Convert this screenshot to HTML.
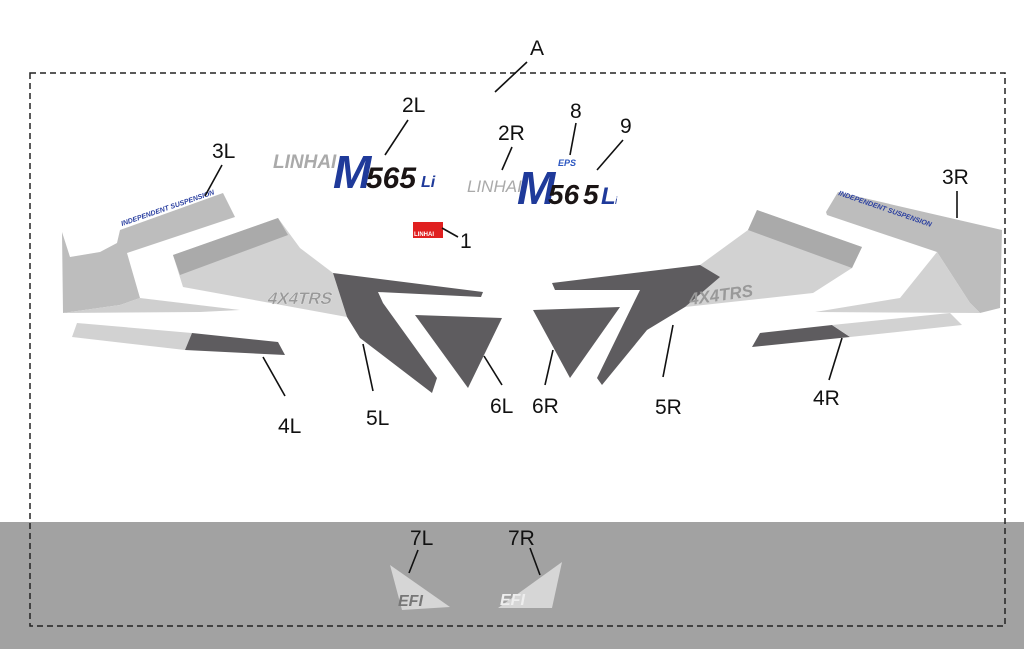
<!DOCTYPE html>
<html><head><meta charset="utf-8"><style>
html,body{margin:0;padding:0;background:#fff}
svg{display:block}
text{font-family:"Liberation Sans",sans-serif}
.lb{font-family:"Liberation Sans Narrow","Liberation Sans",sans-serif;font-size:21px;fill:#111}
.ln{stroke:#111;stroke-width:1.6;fill:none}
</style></head><body>
<svg width="1024" height="649" viewBox="0 0 1024 649" xmlns="http://www.w3.org/2000/svg">
<rect x="0" y="0" width="1024" height="649" fill="#fff"/>
<rect x="0" y="522" width="1024" height="127" fill="#a2a2a2"/>
<rect x="30" y="73" width="975" height="553" fill="none" stroke="#222" stroke-width="1.5" stroke-dasharray="6,4"/>

<!-- 3L -->
<polygon points="62,232 70,257 100,252 117,243 120,230 223,193 235,217 127,253 140,298 120,305 63,313" fill="#bdbdbd"/>
<polygon points="63,313 120,305 140,298 240,310 200,312" fill="#cfcfcf"/>
<text x="0" y="0" transform="translate(122,226) rotate(-19)" font-size="7" font-weight="bold" font-style="italic" fill="#2a3fa0">INDEPENDENT SUSPENSION</text>
<!-- big left -->
<polygon points="173,255 278,218 300,248 333,273 347,317 183,287" fill="#d2d2d2"/>
<polygon points="173,255 278,218 288,235 180,275" fill="#aaaaaa"/>
<polygon points="333,273 483,292 481,297 378,292 383,303 437,378 432,393 360,338 347,317" fill="#5e5c5f"/>
<text x="268" y="304" transform="skewX(-15) translate(80,0)" font-size="17" font-weight="bold" fill="#999" stroke="#eee" stroke-width="0.3">4X4TRS</text>
<polygon points="415,315 502,318 468,388" fill="#5e5c5f"/>
<!-- 4L -->
<polygon points="77,323 192,333 185,350 72,337" fill="#d2d2d2"/>
<polygon points="192,333 278,342 285,355 185,350" fill="#5e5c5f"/>

<!-- 3R -->
<polygon points="826,212 838,192 1002,230 1000,308 980,313 970,303 937,252 827,215" fill="#bdbdbd"/>
<polygon points="937,252 970,303 980,313 815,312 900,298" fill="#d2d2d2"/>
<text x="0" y="0" transform="translate(838,195) rotate(19)" font-size="7" font-weight="bold" font-style="italic" fill="#2a3fa0">INDEPENDENT SUSPENSION</text>
<!-- big right -->
<polygon points="748,230 757,210 862,247 852,268 813,293 685,307 700,265" fill="#d2d2d2"/>
<polygon points="748,230 757,210 862,247 852,268" fill="#aaaaaa"/>
<polygon points="552,283 700,265 720,277 685,307 647,330 602,385 597,378 640,290 555,290" fill="#5e5c5f"/>
<text x="690" y="305" transform="rotate(-8 690 305)" font-size="17" font-weight="bold" font-style="italic" fill="#999">4X4TRS</text>
<polygon points="533,310 620,307 570,378" fill="#5e5c5f"/>
<!-- 4R -->
<polygon points="760,333 832,325 850,337 752,347" fill="#5e5c5f"/>
<polygon points="832,325 950,313 962,325 850,337" fill="#d2d2d2"/>

<!-- logos -->
<text x="273" y="168" font-size="19" font-style="italic" font-weight="bold" fill="#aaa">LINHAI</text>
<text x="333" y="188" font-size="46" font-style="italic" font-weight="bold" fill="#1f3a9a">M</text>
<text x="366" y="188" font-size="30" font-style="italic" font-weight="bold" fill="#1a1414">565</text>
<text x="421" y="187" font-size="16" font-style="italic" font-weight="bold" fill="#1f3a9a">Li</text>
<text x="467" y="192" font-size="17" font-style="italic" fill="#aaa">LINHAI</text>
<text x="517" y="204" font-size="46" font-style="italic" font-weight="bold" fill="#1f3a9a">M</text>
<text x="548" y="204" font-size="28" font-style="italic" font-weight="bold" fill="#1a1414">56</text>
<text x="583" y="204" font-size="28" font-style="italic" font-weight="bold" fill="#1a1414">5</text>
<text x="601" y="204" font-size="24" font-style="italic" font-weight="bold" fill="#1f3a9a">L</text>
<text x="615" y="204" font-size="10" font-style="italic" fill="#1f3a9a">i</text>
<text x="558" y="166" font-size="9" font-style="italic" font-weight="bold" fill="#2a55c0">EPS</text>
<rect x="413" y="222" width="30" height="16" fill="#e02020"/>
<text x="414" y="236" font-size="6" font-weight="bold" fill="#fff">LINHAI</text>

<!-- EFI -->
<polygon points="390,565 450,607 402,610" fill="#d6d6d6"/>
<text x="398" y="606" font-size="16" font-weight="bold" font-style="italic" fill="#777">EFI</text>
<polygon points="562,562 552,608 498,608" fill="#d6d6d6"/>
<text x="500" y="605" font-size="16" font-weight="bold" font-style="italic" fill="#eee">EFI</text>

<!-- leaders -->
<line class="ln" x1="495" y1="92" x2="527" y2="62"/>
<line class="ln" x1="385" y1="155" x2="408" y2="120"/>
<line class="ln" x1="502" y1="170" x2="512" y2="147"/>
<line class="ln" x1="570" y1="155" x2="576" y2="123"/>
<line class="ln" x1="597" y1="170" x2="623" y2="140"/>
<line class="ln" x1="205" y1="196" x2="222" y2="165"/>
<line class="ln" x1="957" y1="218" x2="957" y2="191"/>
<line class="ln" x1="442" y1="228" x2="458" y2="237"/>
<line class="ln" x1="263" y1="357" x2="285" y2="396"/>
<line class="ln" x1="363" y1="344" x2="373" y2="391"/>
<line class="ln" x1="484" y1="356" x2="502" y2="385"/>
<line class="ln" x1="553" y1="350" x2="545" y2="385"/>
<line class="ln" x1="673" y1="325" x2="663" y2="377"/>
<line class="ln" x1="842" y1="338" x2="829" y2="380"/>
<line class="ln" x1="409" y1="573" x2="418" y2="550"/>
<line class="ln" x1="540" y1="575" x2="530" y2="548"/>

<!-- labels -->
<text class="lb" x="530" y="55">A</text>
<text class="lb" x="402" y="112">2L</text>
<text class="lb" x="498" y="140">2R</text>
<text class="lb" x="570" y="118">8</text>
<text class="lb" x="620" y="133">9</text>
<text class="lb" x="212" y="158">3L</text>
<text class="lb" x="942" y="184">3R</text>
<text class="lb" x="460" y="248">1</text>
<text class="lb" x="278" y="433">4L</text>
<text class="lb" x="366" y="425">5L</text>
<text class="lb" x="490" y="413">6L</text>
<text class="lb" x="532" y="413">6R</text>
<text class="lb" x="655" y="414">5R</text>
<text class="lb" x="813" y="405">4R</text>
<text class="lb" x="410" y="545">7L</text>
<text class="lb" x="508" y="545">7R</text>
</svg>
</body></html>
